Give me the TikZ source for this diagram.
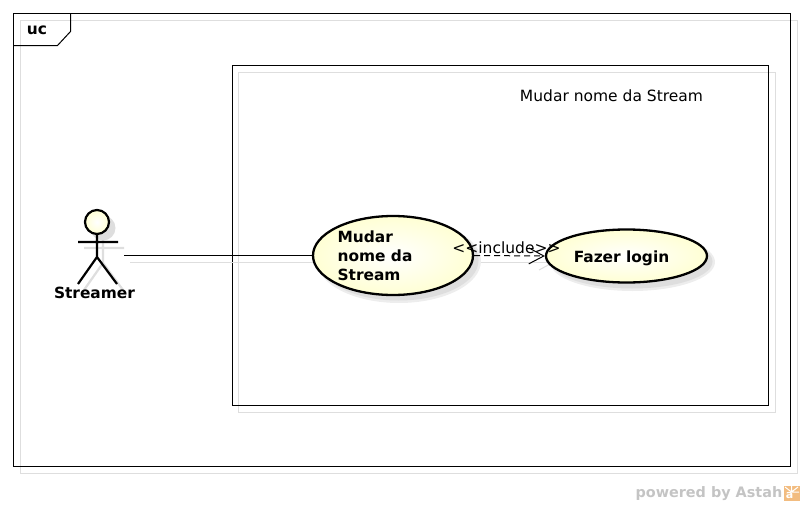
\documentclass[tikz,border=0pt]{standalone}
\usepackage{fontspec}
\setmainfont{DejaVu Sans}
\usetikzlibrary{arrows.meta,shapes.geometric}
\definecolor{shadowgray}{HTML}{DEDEDE}
\definecolor{softgray}{HTML}{EDEDED}
\definecolor{caseyellow}{HTML}{FFFFD4}
\definecolor{logotext}{HTML}{C4C4C4}
\definecolor{logoorange}{HTML}{F2BC80}
\tikzset{
  framebox/.style={draw=black,line width=1pt},
  shadowbox/.style={draw=shadowgray,line width=1pt},
  usecase/.style={ellipse,draw=black,line width=2.3pt,inner color=white,outer color=caseyellow,inner sep=0pt},
  caseshadow/.style={ellipse,fill=shadowgray,inner sep=0pt},
  caseglow/.style={ellipse,fill=softgray,inner sep=0pt},
  actorline/.style={draw=black,line width=2.2pt},
  actorshadow/.style={draw=shadowgray,line width=2.2pt},
  caption/.style={font=\fontsize{15.5}{19}\selectfont,inner sep=0pt},
  boldcaption/.style={caption,font=\fontsize{15.4}{19}\selectfont\bfseries},
}
\begin{document}
\begin{tikzpicture}[x=1pt,y=-1pt]
\useasboundingbox (0,0) rectangle (804,506);
% outer frame
\draw[shadowbox] (20.5,20.5) rectangle (797.5,473.5);
\draw[framebox] (13.5,13.5) rectangle (790.5,466.5);
\draw[framebox] (13.5,45.5) -- (57.5,45.5) -- (70.5,31.5) -- (70.5,13.5);
\node[boldcaption] (ucLabel) at (37,30) {uc};
% system boundary
\draw[shadowbox] (238.5,72.5) rectangle (775.5,412.5);
\draw[framebox] (232.5,65.5) rectangle (768.5,405.5);
\node[caption] (systemLabel) at (611.5,95.5) {Mudar nome da Stream};
% actor shadow
\node[circle,fill=shadowgray,minimum size=25pt,inner sep=0pt] (headShadow) at (103,228) {};
\draw[actorshadow] (103,240) -- (103,263) (84,248) -- (124,248) (103,263) -- (84,290) (103,263) -- (123,290);
% connector shadows
\draw[shadowbox] (130,262.5) -- (318,262.5);
\draw[shadowbox] (479,262.5) -- (552,262.5);
\draw[shadowbox] (539,270) -- (552,263);
% use case shadows
\node[caseglow,minimum width=164pt,minimum height=84pt] (mudarGlow) at (399,261) {};
\node[caseglow,minimum width=165pt,minimum height=58pt] (fazerGlow) at (632.5,262) {};
\node[caseshadow,minimum width=160pt,minimum height=80pt] (mudarShadow) at (398.5,260.5) {};
\node[caseshadow,minimum width=161pt,minimum height=54pt] (fazerShadow) at (632,261.5) {};
% actor
\node[circle,draw=black,line width=2.2pt,inner color=white,outer color=caseyellow,minimum size=24pt,inner sep=0pt] (head) at (97,222) {};
\coordinate (hip) at (97,257);
\coordinate (streamerHand) at (124,255.5);
\draw[actorline] (head.south) -- (hip) (78,242) -- (118,242) (hip) -- (78,284) (hip) -- (117,284);
\node[boldcaption] (streamerLabel) at (94.5,293) {Streamer};
% use cases
\node[usecase,minimum width=160pt,minimum height=79pt] (mudar) at (393,255.5) {};
\node[usecase,minimum width=161pt,minimum height=53pt] (fazer) at (626.5,256) {};
\node[boldcaption,align=left] (mudarLabel) at (375,255.5) {Mudar\\nome da\\Stream};
\node[boldcaption] (fazerLabel) at (621.5,258) {Fazer login};
% connectors
\draw[line width=1pt] (streamerHand) -- (mudar.west);
\draw[line width=1pt,dashed,dash pattern=on 6pt off 4pt,-{Straight Barb[length=15pt,width=16pt,line width=1pt]}] (mudar.east) -- (fazer.west);
\node[caption] (includeLabel) at (506.5,247.5) {{<}{<}include{>}{>}};
% footer
\node[font=\fontsize{14.4}{16}\selectfont\bfseries,text=logotext,inner sep=0pt,anchor=east] (poweredLabel) at (782.5,494) {powered by Astah};
\node[fill=logoorange,minimum width=16pt,minimum height=15pt,inner sep=0pt] (astahLogo) at (791.5,493) {};
\draw[white,line width=1pt] (791.5,492) -- (791.5,485.5) (791.5,492) -- (785,487) (791.5,492) -- (798,487) (791.5,492) -- (799,492);
\node[text=white,font=\fontsize{11}{11}\selectfont\bfseries,inner sep=0pt] (logoLetter) at (789.5,495) {a};
\end{tikzpicture}
\end{document}
